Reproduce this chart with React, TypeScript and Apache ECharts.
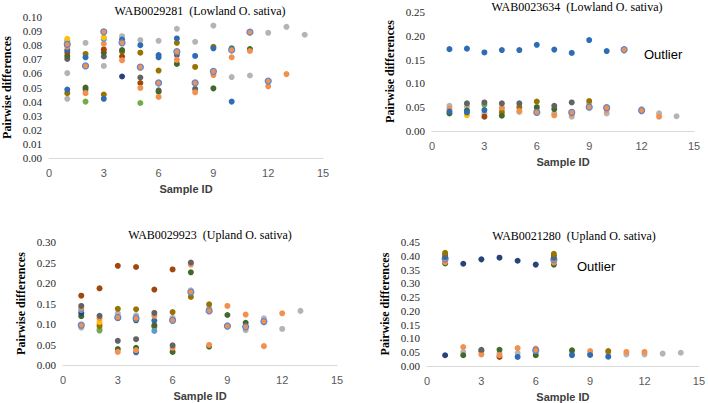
import React, { useEffect, useRef } from "react";
import * as echarts from "echarts";

// ---------- colours ----------
const C = {
  blue: "#2E6DB4",
  darkblue: "#264478",
  orange: "#F1914F",
  gray: "#B4B4B4",
  gold: "#FFC000",
  lightblue: "#5B9BD5",
  green: "#43682B",
  lightgreen: "#70AD47",
  brown: "#9E480E",
  darkgray: "#636363",
  olive: "#997300",
  ringFill: "#F1914F",
  ringBorder: "#5B86D0",
};

// ---------- tick labels ----------
const xTicks = [0, 3, 6, 9, 12, 15];
const titles = [
  "WAB0029281  (Lowland O. sativa)",
  "WAB0023634  (Lowland O. sativa)",
  "WAB0029923  (Upland O. sativa)",
  "WAB0021280  (Upland O. sativa)",
];
const yMax = [0.1, 0.25, 0.3, 0.45];
const yStep = [0.01, 0.05, 0.05, 0.05];

// ---------- panel 1 : WAB0029281 ----------
const p1Gray = [[1, 0.0602], [1, 0.042], [2, 0.0817], [3, 0.0653], [4, 0.0864], [5, 0.0836], [6, 0.0831], [7, 0.0916], [8, 0.0824], [9, 0.0939], [10, 0.0574], [11, 0.0585], [12, 0.0888], [13, 0.093], [14, 0.0874]];
const p1Gold = [[1, 0.0845], [3, 0.0855]];
const p1LightBlue = [[1, 0.083], [3, 0.0843]];
const p1Orange = [[1, 0.079], [2, 0.046], [3, 0.081], [4, 0.0693], [5, 0.0497], [6, 0.0433], [7, 0.0696], [8, 0.0466], [9, 0.0588], [10, 0.0714], [11, 0.0759], [12, 0.0508], [13, 0.0595]];
const p1Blue = [[1, 0.0766], [1, 0.0485], [2, 0.0714], [3, 0.042], [4, 0.084], [5, 0.08], [6, 0.073], [6, 0.0714], [7, 0.0848], [8, 0.0724], [9, 0.0778], [10, 0.04]];
const p1DarkBlue = [[4, 0.0578]];
const p1Brown = [[1, 0.075], [3, 0.077], [4, 0.072], [5, 0.0532]];
const p1Green = [[1, 0.0724], [2, 0.05], [3, 0.0747], [4, 0.0766], [6, 0.047], [7, 0.0667], [9, 0.0494], [10, 0.0778], [11, 0.0773]];
const p1DarkGray = [[1, 0.0703], [2, 0.0485], [3, 0.072], [5, 0.0571], [6, 0.048], [7, 0.073], [8, 0.049]];
const p1Olive = [[1, 0.046], [2, 0.0738], [3, 0.045], [4, 0.0754], [5, 0.0747], [6, 0.062], [7, 0.0817], [8, 0.0646], [9, 0.0789]];
const p1LightGreen = [[2, 0.04], [5, 0.039]];
const p1Ringed = [[1, 0.0806], [2, 0.0653], [3, 0.0895], [4, 0.0817], [5, 0.0644], [6, 0.0532], [7, 0.0754], [8, 0.0532], [9, 0.0614], [10, 0.0766], [11, 0.0892], [12, 0.0546]];

// ---------- panel 2 : WAB0023634 ----------
const p2Gray = [[1, 0.053], [2, 0.051], [3, 0.037], [4, 0.044], [5, 0.04], [6, 0.044], [7, 0.037], [8, 0.03], [9, 0.058], [10, 0.037], [11, 0.169], [12, 0.046], [13, 0.037], [14, 0.031]];
const p2Blue = [[1, 0.172], [2, 0.173], [3, 0.165], [4, 0.17], [5, 0.17], [6, 0.181], [7, 0.171], [8, 0.164], [9, 0.191], [10, 0.168], [1, 0.041], [2, 0.039], [3, 0.044]];
const p2DarkGray = [[2, 0.058], [3, 0.06], [4, 0.058], [5, 0.058], [7, 0.053], [8, 0.06]];
const p2Orange = [[1, 0.047], [4, 0.049], [5, 0.042], [7, 0.033], [8, 0.035], [10, 0.044], [13, 0.03]];
const p2Green = [[1, 0.037], [2, 0.043], [4, 0.032], [6, 0.05], [7, 0.046]];
const p2Gold = [[2, 0.033]];
const p2LightGreen = [[3, 0.055]];
const p2Brown = [[3, 0.03]];
const p2Olive = [[4, 0.039], [5, 0.05], [6, 0.062], [9, 0.063]];
const p2Ringed = [[6, 0.039], [8, 0.039], [9, 0.05], [10, 0.049], [11, 0.171], [12, 0.043]];

// ---------- panel 3 : WAB0029923 ----------
const p3Gray = [[1, 0.091], [2, 0.088], [2, 0.1], [3, 0.126], [4, 0.121], [6, 0.115], [7, 0.182], [8, 0.139], [9, 0.097], [10, 0.085], [11, 0.114], [12, 0.088], [13, 0.132]];
const p3Brown = [[1, 0.169], [2, 0.187], [3, 0.242], [4, 0.239], [5, 0.184], [6, 0.233]];
const p3DarkGray = [[1, 0.144], [2, 0.12], [3, 0.059], [4, 0.063], [5, 0.127], [6, 0.048], [7, 0.25]];
const p3Orange = [[1, 0.139], [2, 0.114], [3, 0.032], [4, 0.036], [5, 0.12], [6, 0.042], [7, 0.245], [8, 0.049], [9, 0.144], [10, 0.123], [11, 0.046], [12, 0.126]];
const p3LightBlue = [[1, 0.134], [5, 0.083]];
const p3DarkBlue = [[1, 0.127]];
const p3Green = [[1, 0.119], [3, 0.114], [3, 0.039], [4, 0.109], [4, 0.042], [5, 0.097], [6, 0.032], [7, 0.226], [8, 0.045], [9, 0.122], [10, 0.103]];
const p3Gold = [[2, 0.105]];
const p3Olive = [[2, 0.095], [3, 0.137], [4, 0.136], [5, 0.093], [6, 0.129], [7, 0.166], [8, 0.148]];
const p3LightGreen = [[2, 0.084]];
const p3Blue = [[4, 0.031], [5, 0.108]];
const p3Ringed = [[1, 0.097], [3, 0.116], [4, 0.114], [6, 0.109], [7, 0.178], [8, 0.132], [9, 0.095], [10, 0.093], [11, 0.106]];

// ---------- panel 4 : WAB0021280 ----------
const p4Gray = [[1, 0.383], [7, 0.383], [2, 0.051], [4, 0.047], [5, 0.047], [6, 0.048], [8, 0.047], [9, 0.045], [10, 0.048], [11, 0.042], [12, 0.042], [13, 0.045], [14, 0.048]];
const p4Green = [[1, 0.372], [7, 0.368], [2, 0.039], [3, 0.054], [4, 0.059], [6, 0.039], [8, 0.057]];
const p4Orange = [[1, 0.377], [7, 0.376], [2, 0.069], [3, 0.042], [4, 0.039], [5, 0.065], [6, 0.063], [9, 0.054], [11, 0.051], [12, 0.051]];
const p4Ringed = [[1, 0.389], [7, 0.386], [6, 0.057]];
const p4Blue = [[1, 0.395], [7, 0.392], [5, 0.033], [8, 0.039], [9, 0.04], [10, 0.034]];
const p4DarkGray = [[1, 0.404], [7, 0.4], [3, 0.059]];
const p4Olive = [[1, 0.411], [7, 0.407], [10, 0.054]];
const p4Brown = [[4, 0.033]];
const p4DarkBlue = [[1, 0.039], [2, 0.371], [3, 0.387], [4, 0.393], [5, 0.382], [6, 0.368]];

type S = { data: number[][]; color: string; ring?: boolean };
const panels: S[][] = [
  [
    { data: p1Gray, color: C.gray },
    { data: p1LightGreen, color: C.lightgreen },
    { data: p1Olive, color: C.olive },
    { data: p1DarkGray, color: C.darkgray },
    { data: p1Green, color: C.green },
    { data: p1Brown, color: C.brown },
    { data: p1DarkBlue, color: C.darkblue },
    { data: p1Blue, color: C.blue },
    { data: p1Orange, color: C.orange },
    { data: p1LightBlue, color: C.lightblue },
    { data: p1Gold, color: C.gold },
    { data: p1Ringed, color: C.ringFill, ring: true },
  ],
  [
    { data: p2Gray, color: C.gray },
    { data: p2Olive, color: C.olive },
    { data: p2Brown, color: C.brown },
    { data: p2LightGreen, color: C.lightgreen },
    { data: p2Gold, color: C.gold },
    { data: p2Green, color: C.green },
    { data: p2Orange, color: C.orange },
    { data: p2DarkGray, color: C.darkgray },
    { data: p2Blue, color: C.blue },
    { data: p2Ringed, color: C.ringFill, ring: true },
  ],
  [
    { data: p3Gray, color: C.gray },
    { data: p3Blue, color: C.blue },
    { data: p3LightGreen, color: C.lightgreen },
    { data: p3Olive, color: C.olive },
    { data: p3Gold, color: C.gold },
    { data: p3Green, color: C.green },
    { data: p3DarkBlue, color: C.darkblue },
    { data: p3LightBlue, color: C.lightblue },
    { data: p3Orange, color: C.orange },
    { data: p3DarkGray, color: C.darkgray },
    { data: p3Brown, color: C.brown },
    { data: p3Ringed, color: C.ringFill, ring: true },
  ],
  [
    { data: p4Gray, color: C.gray },
    { data: p4Brown, color: C.brown },
    { data: p4Green, color: C.green },
    { data: p4Orange, color: C.orange },
    { data: p4Ringed, color: C.ringFill, ring: true },
    { data: p4Blue, color: C.blue },
    { data: p4DarkGray, color: C.darkgray },
    { data: p4Olive, color: C.olive },
    { data: p4DarkBlue, color: C.darkblue },
  ],
];

const grids = [
  { left: 49, top: 17, width: 274, height: 141 },
  { left: 432, top: 12, width: 262, height: 119 },
  { left: 63, top: 242, width: 274, height: 123 },
  { left: 427, top: 242, width: 275, height: 124 },
];
const titlePos = [
  [200, 11],
  [577, 7],
  [210, 235],
  [574, 236],
];
const outlierPos = [
  [644, 54],
  [577, 266],
];

const SERIF = "'Liberation Serif', 'Times New Roman', serif";
const SANS = "'Liberation Sans', Arial, sans-serif";

export default function App() {
  const ref = useRef<HTMLDivElement>(null);
  useEffect(() => {
    if (!ref.current) return;
    const chart = echarts.init(ref.current, undefined, { renderer: "svg" });
    const xAxis = grids.map((_, i) => ({
      type: "value",
      gridIndex: i,
      min: 0,
      max: 15,
      interval: 3,
      axisLine: { show: true, lineStyle: { color: "#D9D9D9", width: 1 } },
      axisTick: { show: false },
      splitLine: { show: false },
      axisLabel: {
        margin: 9,
        fontFamily: SANS,
        fontSize: 11,
        color: "#595959",
        formatter: (v: number) => (xTicks.includes(v) ? String(v) : ""),
      },
      name: "Sample ID",
      nameLocation: "middle",
      nameGap: 25,
      nameTextStyle: { fontFamily: SANS, fontSize: 11, fontWeight: "bold", color: "#404040" },
    }));
    const yAxis = grids.map((_, i) => ({
      type: "value",
      gridIndex: i,
      min: 0,
      max: yMax[i],
      interval: yStep[i],
      axisLine: { show: false },
      axisTick: { show: false },
      splitLine: { show: false },
      axisLabel: {
        margin: 7,
        fontFamily: SERIF,
        fontSize: 11,
        color: "#262626",
        formatter: (v: number) => v.toFixed(2),
      },
      name: "Pairwise differences",
      nameLocation: "middle",
      nameRotate: 90,
      nameGap: 36,
      nameTextStyle: { fontFamily: SERIF, fontSize: 12, fontWeight: "bold", color: "#000" },
    }));
    const series: any[] = [];
    panels.forEach((list, i) => {
      list.forEach((s) => {
        series.push({
          type: "scatter",
          xAxisIndex: i,
          yAxisIndex: i,
          data: s.data,
          symbol: "circle",
          symbolSize: 6,
          itemStyle: s.ring
            ? { color: s.color, borderColor: C.ringBorder, borderWidth: 1.2, opacity: 1 }
            : { color: s.color, opacity: 1 },
          emphasis: { disabled: true },
        });
      });
    });
    const graphic: any[] = titles.map((t, i) => ({
      type: "text",
      x: titlePos[i][0],
      y: titlePos[i][1],
      style: {
        text: t,
        textAlign: "center",
        textVerticalAlign: "middle",
        fontFamily: SERIF,
        fontSize: 12,
        fill: "#000",
      },
    }));
    outlierPos.forEach((p) => {
      graphic.push({
        type: "text",
        x: p[0],
        y: p[1],
        style: {
          text: "Outlier",
          textAlign: "left",
          textVerticalAlign: "middle",
          fontFamily: SANS,
          fontSize: 13,
          fill: "#000",
        },
      });
    });
    chart.setOption({
      animation: false,
      backgroundColor: "#fff",
      grid: grids,
      xAxis,
      yAxis,
      series,
      graphic,
    });
    return () => chart.dispose();
  }, []);
  return (
    <div
      ref={ref}
      style={{ position: "fixed", left: 0, top: 0, width: 708, height: 403, background: "#fff" }}
    />
  );
}
